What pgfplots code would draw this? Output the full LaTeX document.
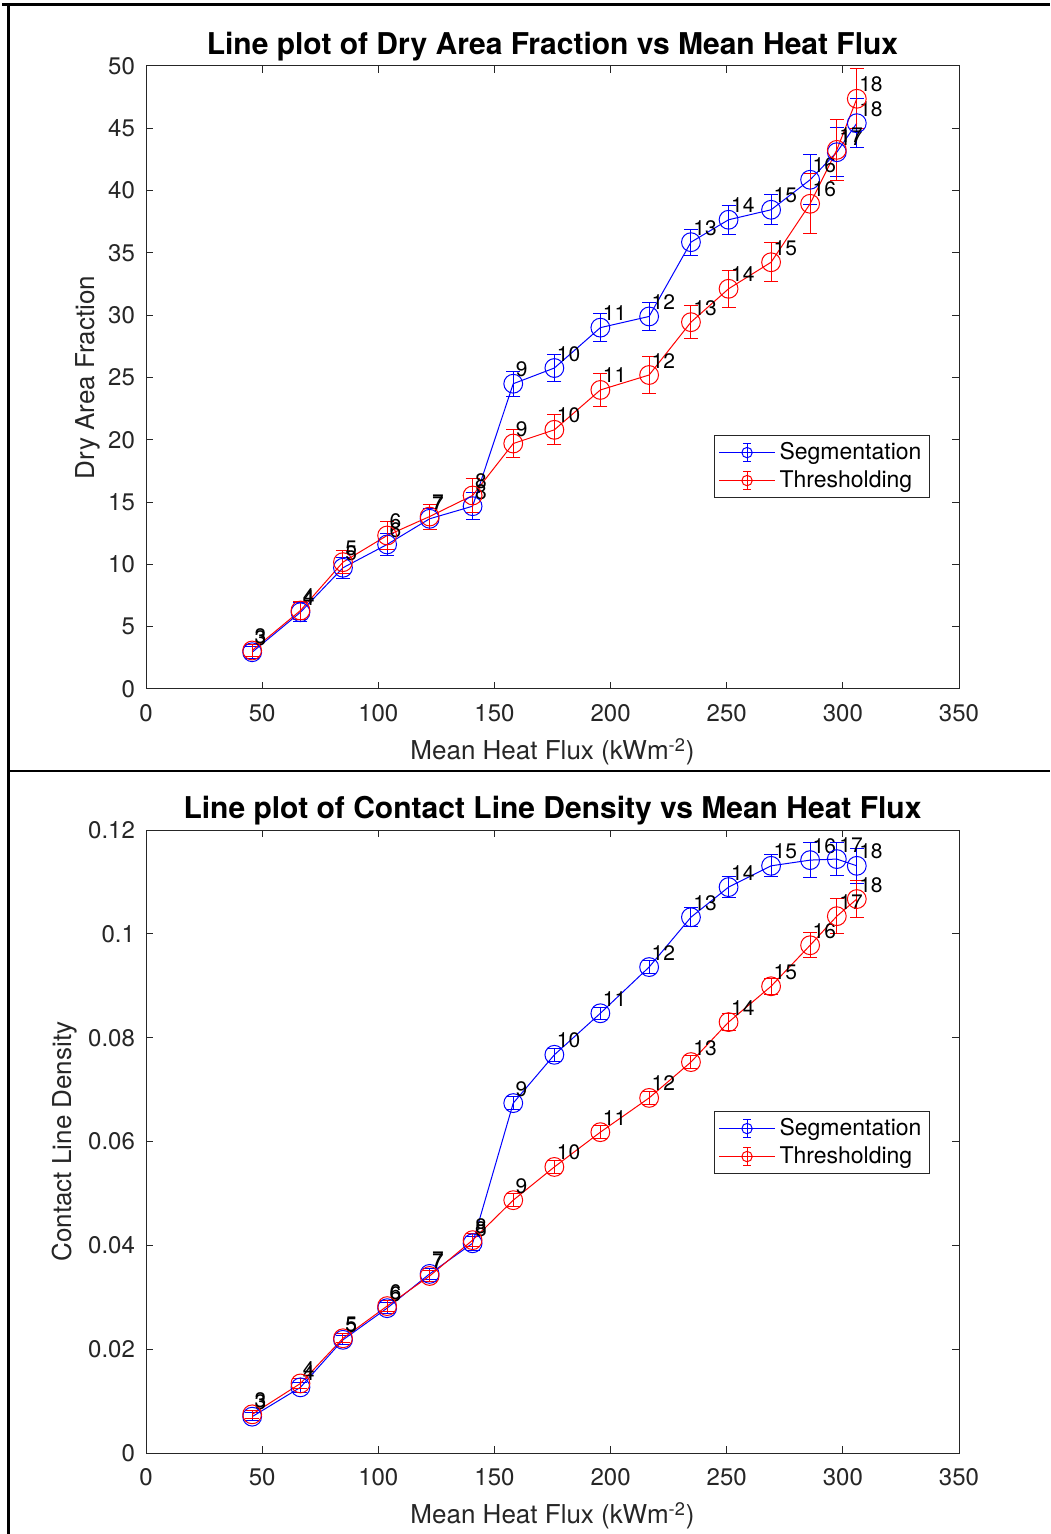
\documentclass[border=0pt]{standalone}
\usepackage{fontspec}
\setmainfont{TeX Gyre Heros}
\usepackage{pgfplots}
\pgfplotsset{compat=1.18}
\usepackage{pgfplotstable}

\pgfplotstableread{
x yS eS yT eT lab
45.7 2.95 0.5 3.09 0.45 3
66.5 6.16 0.75 6.3 0.75 4
84.8 9.73 0.85 10.18 0.9 5
103.8 11.6 0.85 12.32 1.1 6
122.1 13.66 0.85 13.84 1.0 7
140.6 14.67 1.07 15.53 1.4 8
158.1 24.5 1.0 19.7 1.1 9
175.8 25.76 1.1 20.8 1.2 10
195.6 29.0 1.1 24.0 1.35 11
216.6 29.9 1.1 25.2 1.45 12
234.6 35.86 1.05 29.44 1.3 13
250.8 37.66 1.16 32.12 1.5 14
269.1 38.46 1.2 34.25 1.55 15
285.9 40.87 2.0 38.94 2.4 16
297.4 43.08 1.95 43.27 2.45 17
306.0 45.41 1.97 47.37 2.4 18
}\dryarea

\pgfplotstableread{
x yS eS yT eT lab
45.7 0.0070 0.0008 0.00745 0.0008 3
66.5 0.01265 0.0010 0.0134 0.0010 4
84.8 0.0218 0.0009 0.0221 0.0009 5
103.8 0.0279 0.0010 0.0283 0.0010 6
122.1 0.0345 0.0010 0.0341 0.0010 7
140.6 0.0404 0.0013 0.0410 0.0012 8
158.1 0.0674 0.0012 0.0487 0.0012 9
175.8 0.0767 0.0012 0.0551 0.0012 10
195.6 0.0847 0.0012 0.0618 0.0012 11
216.6 0.0936 0.0013 0.0684 0.0013 12
234.6 0.1032 0.0018 0.0753 0.0013 13
250.8 0.1090 0.0020 0.0830 0.0017 14
269.1 0.1131 0.0021 0.0899 0.0015 15
285.9 0.1142 0.0033 0.0978 0.0024 16
297.4 0.1144 0.0032 0.1034 0.0034 17
306.0 0.1131 0.0034 0.1067 0.0035 18
}\contact

\definecolor{axgray}{rgb}{0.15,0.15,0.15}

\pgfplotsset{
  mystyle/.style={
    scale only axis, width=406.5pt, height=311.5pt,
    xmin=0, xmax=350, xtick={0,50,...,350},
    tick align=inside,
    axis line style={draw=axgray, line width=0.5pt},
    major tick length=3.5pt,
    tick style={axgray, line width=0.5pt},
    ticklabel style={font=\fontsize{12}{14}\selectfont, text=axgray},
    /pgf/number format/assume math mode=true,
    xticklabel style={yshift=-4pt},
    yticklabel style={xshift=-2pt},
    label style={font=\fontsize{13}{15}\selectfont, text=axgray},
    every axis title shift=0pt,
    title style={font=\bfseries\fontsize{15}{17}\selectfont, at={(axis description cs:0.5,1.031)}, anchor=center, yshift=0pt},
    xlabel={Mean Heat Flux (kWm\textsuperscript{-2})},
    xlabel style={at={(axis description cs:0.5,-0.101)}, anchor=center},
    point meta=explicit symbolic,
    nodes near coords,
    every node near coord/.append style={anchor=base west, xshift=1pt, yshift=3.5pt, inner sep=0pt, text=black, font=\fontsize{10.5}{12}\selectfont},
    legend cell align=left,
    legend style={draw=axgray, line width=0.5pt, fill=white, font=\fontsize{11.5}{13.5}\selectfont, inner xsep=2pt, inner ysep=1.5pt, row sep=0pt, text=black},
    legend image code/.code={
      \draw[##1, line width=0.5pt] (0pt,0pt) -- (28pt,0pt);
      \draw[##1, line width=0.5pt] (14pt,-4.5pt) -- (14pt,4.5pt) (12pt,-4.5pt) -- (16pt,-4.5pt) (12pt,4.5pt) -- (16pt,4.5pt);
      \draw[##1, line width=0.5pt] (14pt,0pt) circle (2.6pt);
    },
  },
}

\begin{document}
\begin{tikzpicture}
\path[use as bounding box] (0,0) rectangle (525pt,-767pt);
\draw[black, line width=1.5pt] (1pt,-2.5pt) -- (525pt,-2.5pt);
\draw[black, line width=1.5pt] (4pt,-2.5pt) -- (4pt,-767pt);
\draw[black, line width=1.4pt] (4pt,-385.5pt) -- (525pt,-385.5pt);

\begin{axis}[mystyle, at={(73pt,-33pt)}, anchor=north west,
  ymin=0, ymax=50, ytick={0,5,...,50},
  title={Line plot of Dry Area Fraction vs Mean Heat Flux},
  ylabel={Dry Area Fraction},
  ylabel style={at={(axis description cs:-0.0713,0.5)}, anchor=center},
  legend style={at={(0.6987,0.4077)}, anchor=north west},
]
\addlegendimage{blue}
\addlegendimage{red}
\addplot[blue, line width=0.5pt, mark=o, mark size=4.7pt, mark options={solid, line width=0.5pt}, forget plot,
  error bars/.cd, y dir=both, y explicit, error bar style={blue, line width=0.5pt},
  error mark options={draw=blue, rotate=90, mark size=3.5pt, line width=0.5pt}]
  table[x=x, y=yS, y error=eS, meta=lab] {\dryarea};
\addplot[red, line width=0.5pt, mark=o, mark size=4.7pt, mark options={solid, line width=0.5pt}, forget plot,
  error bars/.cd, y dir=both, y explicit, error bar style={red, line width=0.5pt},
  error mark options={draw=red, rotate=90, mark size=3.5pt, line width=0.5pt}]
  table[x=x, y=yT, y error=eT, meta=lab] {\dryarea};
\legend{Segmentation, Thresholding}
\end{axis}

\begin{axis}[mystyle, at={(73pt,-415pt)}, anchor=north west,
  ymin=0, ymax=0.12, ytick={0,0.02,0.04,0.06,0.08,0.1,0.12},
  yticklabels={0,0.02,0.04,0.06,0.08,0.1,0.12},
  title={Line plot of Contact Line Density vs Mean Heat Flux},
  ylabel={Contact Line Density},
  ylabel style={at={(axis description cs:-0.0996,0.5)}, anchor=center},
  legend style={at={(0.6987,0.549)}, anchor=north west},
]
\addlegendimage{blue}
\addlegendimage{red}
\addplot[blue, line width=0.5pt, mark=o, mark size=4.7pt, mark options={solid, line width=0.5pt}, forget plot,
  error bars/.cd, y dir=both, y explicit, error bar style={blue, line width=0.5pt},
  error mark options={draw=blue, rotate=90, mark size=3.5pt, line width=0.5pt}]
  table[x=x, y=yS, y error=eS, meta=lab] {\contact};
\addplot[red, line width=0.5pt, mark=o, mark size=4.7pt, mark options={solid, line width=0.5pt}, forget plot,
  error bars/.cd, y dir=both, y explicit, error bar style={red, line width=0.5pt},
  error mark options={draw=red, rotate=90, mark size=3.5pt, line width=0.5pt}]
  table[x=x, y=yT, y error=eT, meta=lab] {\contact};
\legend{Segmentation, Thresholding}
\end{axis}
\end{tikzpicture}
\end{document}
